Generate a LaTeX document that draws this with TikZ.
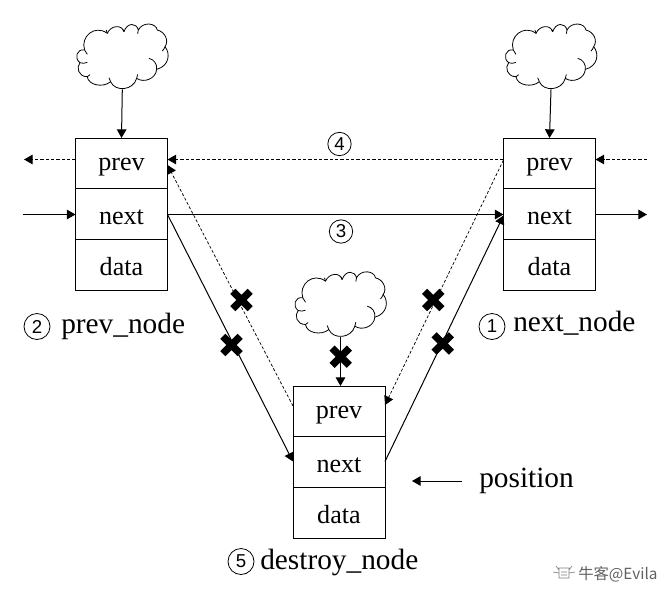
\documentclass[tikz,border=0pt]{standalone}
\usepackage{fontspec}
\setmainfont{Liberation Serif}
\newfontfamily\lsans{Liberation Sans}
\newfontfamily\cjk{Noto Sans CJK SC}
\usetikzlibrary{arrows.meta,calc,shapes.misc}
\tikzset{
  x=.75pt,y=-.75pt,
  cell/.style={draw=black,line width=.75pt,minimum width=69pt,inner sep=0pt,outer sep=0pt,font=\fontsize{19.6}{20}\selectfont,anchor=center},
  prevcell/.style={cell,minimum height=37.5pt,text height=12pt,text depth=1.5pt},
  nextcell/.style={cell,minimum height=38.25pt,text height=17pt,text depth=.5pt},
  tip/.style={-{Triangle[length=6.5pt,width=7.2pt]}},
  solidlink/.style={tip,line width=.75pt},
  dashlink/.style={tip,line width=.7pt,dash pattern=on 2.4pt off 1.6pt},
  thinlink/.style={tip,line width=.55pt,dash pattern=on 2.2pt off 1.5pt},
  xmark/.style={draw=black,cross out,line width=5.4pt,minimum size=13pt,inner sep=0pt,outer sep=0pt},
  cloudbox/.style={minimum width=69pt,minimum height=49pt,inner sep=0pt,outer sep=0pt},
  numcirc/.style={circle,draw=black,line width=.6pt,minimum size=#1,inner sep=0pt,font=\lsans\fontsize{14}{15}\selectfont},
  lab/.style={anchor=base west,inner sep=0pt,font=\fontsize{22}{24}\selectfont},
  cloudshape/.pic={
    \begin{scope}[x=.25pt,y=-.25pt,shift={(-367,-170)}]
    \draw[line width=.6pt,line join=round]
      (254,150) .. controls (240,110) and (285,72) .. (322,100)
      .. controls (332,76) and (365,72) .. (372,95)
      .. controls (382,66) and (410,68) .. (415,90)
      .. controls (428,64) and (468,68) .. (472,90)
      .. controls (495,95) and (508,122) .. (495,140)
      .. controls (512,160) and (508,198) .. (470,208)
      .. controls (468,236) and (432,250) .. (410,235)
      .. controls (400,272) and (345,276) .. (332,245)
      .. controls (310,264) and (265,256) .. (262,230)
      .. controls (235,230) and (228,202) .. (240,188)
      .. controls (222,175) and (230,145) .. (254,150) -- cycle;
    \draw[line width=.6pt]
      (254,150) .. controls (257,155) and (260,160) .. (262,163)
      (240,188) .. controls (247,191) and (255,190) .. (262,187)
      (322,100) .. controls (321,96) and (320,93) .. (319,90)
      (372,95) .. controls (371,92) and (370,90) .. (368,87)
      (415,90) .. controls (414,95) and (414,98) .. (413,101)
      (495,140) .. controls (493,146) and (490,150) .. (487,153)
      (447,175) .. controls (462,178) and (472,192) .. (470,208)
      (410,235) .. controls (412,231) and (413,227) .. (413,223)
      (332,245) .. controls (330,241) and (328,237) .. (327,233)
      (262,230) .. controls (265,228) and (268,226) .. (270,224);
    \end{scope}
  }
}
\begin{document}
\begin{tikzpicture}
\useasboundingbox (0,0) rectangle (664,590);
% left record
\node[prevcell] (lp) at (121.5,163) {prev};
\node[nextcell] (ln) at (121.5,213.5) {next};
\node[nextcell] (ld) at (121.5,264.5) {data};
% right record
\node[prevcell] (rp) at (549.5,163) {prev};
\node[nextcell] (rn) at (549.5,213.5) {next};
\node[nextcell] (rd) at (549.5,264.5) {data};
% middle record
\node[prevcell] (mp) at (339,411) {prev};
\node[nextcell] (mn) at (339,461.5) {next};
\node[nextcell] (md) at (339,512.5) {data};
% clouds
\node[cloudbox] (cl) at (122.3,56.7) {};
\node[cloudbox] (cr) at (551,56.7) {};
\node[cloudbox] (cm) at (340.5,304.5) {};
\pic at (cl.center) {cloudshape};
\pic at (cr.center) {cloudshape};
\pic at (cm.center) {cloudshape};
\draw[solidlink] (cl.south) -- (lp.north);
\draw[solidlink] (cr.south) -- (rp.north);
\draw[solidlink] (cm.south) -- (cm.south|-mp.north);
% free ends
\coordinate (lpo) at (24,159.5);
\coordinate (lni) at (23,214.5);
\coordinate (rpi) at (647,159.5);
\coordinate (rno) at (647,214.5);
\coordinate (pa) at (462,481);
\coordinate (pb) at (412,481);
% horizontal links
\draw[dashlink] ($(lp.west)+(0,-3.5)$) -- (lpo);
\draw[solidlink] (lni) -- ($(ln.west)+(0,1)$);
\draw[dashlink] ($(rp.west)+(0,-3.5)$) -- ($(lp.east)+(0,-3.5)$);
\draw[solidlink] ($(ln.east)+(0,1)$) -- ($(rn.west)+(0,1)$);
\draw[dashlink] (rpi) -- ($(rp.east)+(0,-3.5)$);
\draw[solidlink] ($(rn.east)+(0,1)$) -- (rno);
% diagonal links
\draw[solidlink] ($(ln.east)+(0,1)$) -- (mn.west);
\draw[solidlink] (mn.east) -- ($(rn.west)+(0,2)$);
\draw[thinlink] ($(mp.west)+(0,-5)$) -- ($(lp.east)+(0,2)$);
\draw[thinlink] ($(rp.west)+(0,-3)$) -- ($(mp.east)+(0,-6)$);
\draw[solidlink] (pa) -- (pb);
% crosses
\node[xmark] (x1) at (241.5,300) {};
\node[xmark] (x2) at (231.5,345) {};
\node[xmark] (x3) at (433.3,300) {};
\node[xmark] (x4) at (442.7,343.5) {};
\node[xmark] (x5) at (340.7,356.7) {};
% numbered circles
\node[numcirc=17.5pt] (n4) at (339.5,144) {4};
\node[numcirc=17.5pt] (n3) at (341,231.5) {3};
\node[numcirc=19.5pt] (n2) at (37,326.5) {2};
\node[numcirc=19.5pt] (n1) at (492,326.5) {1};
\node[numcirc=19.5pt] (n5) at (241,561.5) {5};
% labels
\node[lab] (t2) at (61,333) {prev\_node};
\node[lab] (t1) at (513,331) {next\_node};
\node[lab] (t5) at (260,569) {destroy\_node};
\node[lab] (t0) at (479,487) {position};
% watermark
\node[anchor=base west,inner sep=0pt,text=black!62,font=\cjk\fontsize{11.5}{12}\selectfont] (wm) at (578,579) {牛客@Evila};
\draw[black!50,line width=.5pt] (559,568) rectangle (569,578)
  (556,566) -- (559,570) (572,566) -- (569,570) (553,572) -- (559,573) (575,572) -- (569,573)
  (561,572) -- (567,572) (561,575) -- (567,575);
\end{tikzpicture}
\end{document}
